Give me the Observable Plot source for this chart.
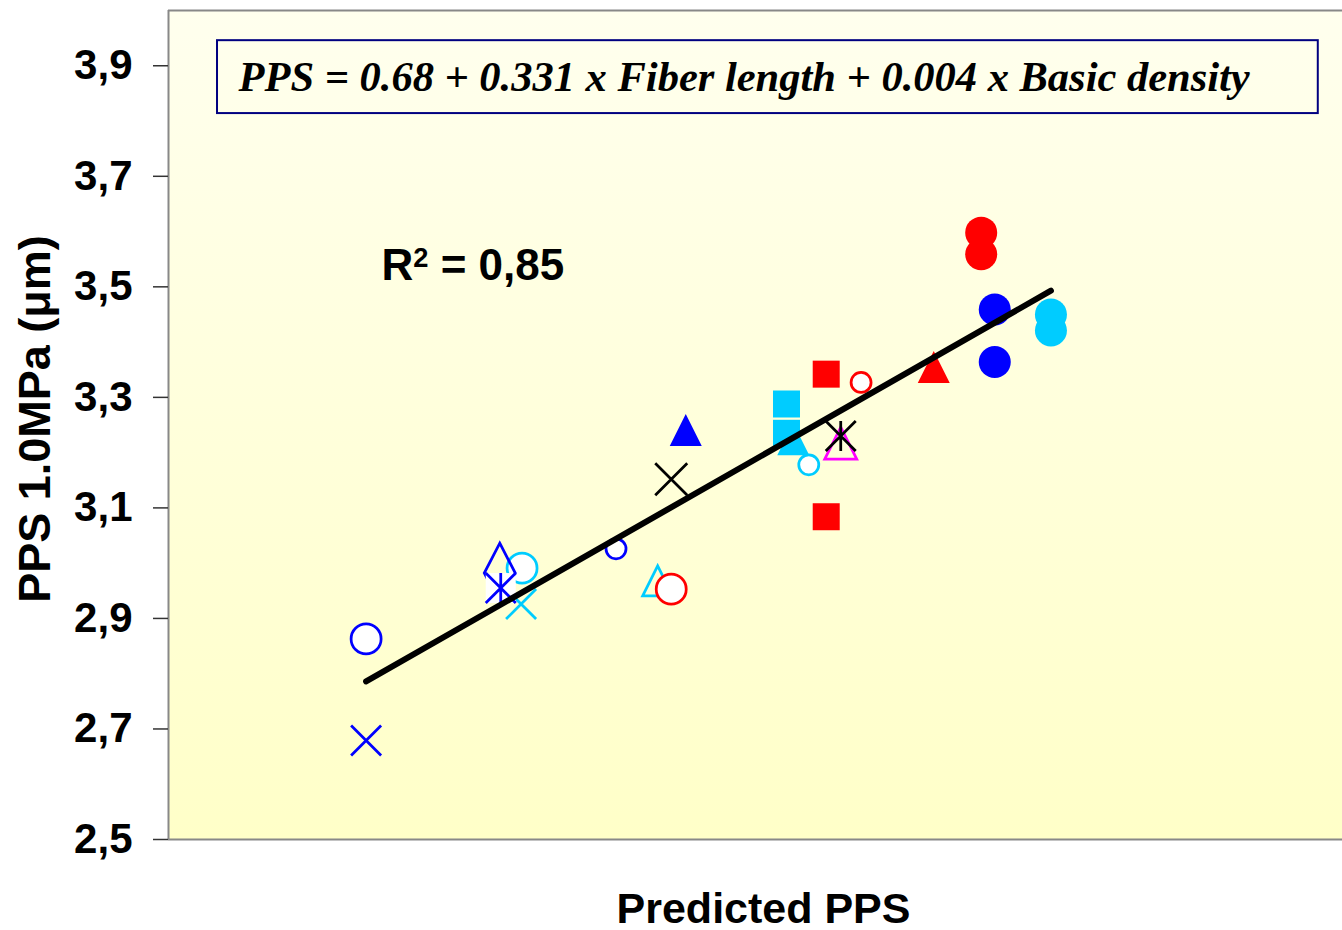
<!DOCTYPE html>
<html>
<head>
<meta charset="utf-8">
<script src="https://cdn.jsdelivr.net/npm/d3@7"></script>
<script src="https://cdn.jsdelivr.net/npm/@observablehq/plot@0.6"></script>
<style>
  html, body { margin: 0; padding: 0; background: #ffffff; }
  #chart svg { display: block; }
</style>
</head>
<body>
<div id="chart"></div>
<script>
// ---- Data ----
const predictedPPS = [2.786, 2.786, 2.924, 2.925, 2.947, 2.946, 3.044, 3.087, 3.101, 3.101,
                      3.116, 3.220, 3.220, 3.227, 3.243, 3.261, 3.261, 3.297, 3.276, 3.276,
                      3.372, 3.421, 3.421, 3.435, 3.435, 3.493, 3.493];
const measuredPPS  = [2.863, 2.679, 2.982, 2.955, 2.991, 2.926, 3.026, 2.968, 2.953, 3.152,
                      3.241, 3.288, 3.235, 3.224, 3.178, 3.342, 3.084, 3.327, 3.217, 3.230,
                      3.355, 3.598, 3.559, 3.459, 3.364, 3.450, 3.421];
const sampleSeries = ["blueCircleOpen", "blueCross", "blueDiamond", "blueStar", "cyanCircleOpen", "cyanCross",
                      "blueCircleSmall", "cyanTriangleOpen", "redCircleOpen", "blackCross",
                      "blueTriangle", "cyanSquare", "cyanSquare", "cyanTriangle", "cyanCircleSmall",
                      "redSquare", "redSquare", "redCircleSmall", "magentaTriangleOpen", "blackStar",
                      "redTriangle", "redCircle", "redCircle", "blueCircle", "blueCircle", "cyanCircle", "cyanCircle"];
const fitLineX = [2.786, 3.493];   // range of predicted values
const yTicks = [2.5, 2.7, 2.9, 3.1, 3.3, 3.5, 3.7, 3.9];
const equationText = "PPS = 0.68 + 0.331 x Fiber length + 0.004 x Basic density";
const r2Label = "R";
const r2Sup = "2";
const r2Value = " = 0,85";
const xTitle = "Predicted PPS";
const yTitle = "PPS 1.0MPa (μm)";

const points = predictedPPS.map((p, i) => ({predicted: p, measured: measuredPPS[i], series: sampleSeries[i]}));
const fitLine = fitLineX.map(v => ({predicted: v, measured: v}));

// ---- Custom marker shapes ----
const rad = s => Math.sqrt(s / Math.PI);
const squareSym = {draw(c, s) { const r = rad(s); c.rect(-r, -r, 2 * r, 2 * r); }};
const triSym = {draw(c, s) { const r = rad(s); c.moveTo(0, -r); c.lineTo(r, r); c.lineTo(-r, r); c.closePath(); }};
const timesSym = {draw(c, s) { const r = rad(s); c.moveTo(-r, -r); c.lineTo(r, r); c.moveTo(-r, r); c.lineTo(r, -r); }};
const starSym = {draw(c, s) { const r = rad(s); c.moveTo(-r, -r); c.lineTo(r, r); c.moveTo(-r, r); c.lineTo(r, -r); c.moveTo(0, -r); c.lineTo(0, r); }};
const kiteSym = {draw(c, s) { const r = rad(s); c.moveTo(0, -1.93 * r); c.lineTo(r, 0); c.lineTo(0, 1.93 * r); c.lineTo(-r, 0); c.closePath(); }};

const BLUE = "#0000FF", CYAN = "#00CCFF", RED = "#FF0000", MAG = "#FF00FF", BLACK = "#000000";
const SW = 2.75;
// draw order = order of this list
const seriesStyles = [
  ["blueCircleOpen",   {symbol: "circle", r: 15, stroke: BLUE, fill: "white", strokeWidth: SW}],
  ["blueCross",        {symbol: timesSym, r: 15, stroke: BLUE, fill: "none", strokeWidth: SW}],
  ["cyanCircleOpen",   {symbol: "circle", r: 15, stroke: CYAN, fill: "white", strokeWidth: SW}],
  ["cyanCross",        {symbol: timesSym, r: 15, stroke: CYAN, fill: "none", strokeWidth: SW}],
  ["blueDiamond",      {symbol: kiteSym, r: 15.5, stroke: BLUE, fill: "none", strokeWidth: SW}],
  ["blueStarBg",       {symbol: squareSym, r: 15, stroke: "none", fill: "white"}, "blueStar"],
  ["blueStar",         {symbol: starSym, r: 15, stroke: BLUE, fill: "none", strokeWidth: SW}],
  ["blueCircleSmall",  {symbol: "circle", r: 10, stroke: BLUE, fill: "white", strokeWidth: SW}],
  ["cyanTriangleOpen", {symbol: triSym, r: 15, stroke: CYAN, fill: "none", strokeWidth: SW}],
  ["redCircleOpen",    {symbol: "circle", r: 15, stroke: RED, fill: "white", strokeWidth: SW}],
  ["blackCross",       {symbol: timesSym, r: 16, stroke: BLACK, fill: "none", strokeWidth: SW}],
  ["blueTriangle",     {symbol: triSym, r: 16, stroke: "none", fill: BLUE}],
  ["cyanSquare",       {symbol: squareSym, r: 13.5, stroke: "none", fill: CYAN}],
  ["cyanTriangle",     {symbol: triSym, r: 16, stroke: "none", fill: CYAN}],
  ["cyanCircleSmall",  {symbol: "circle", r: 10, stroke: CYAN, fill: "white", strokeWidth: SW}],
  ["redSquare",        {symbol: squareSym, r: 13.5, stroke: "none", fill: RED}],
  ["redCircleSmall",   {symbol: "circle", r: 10, stroke: RED, fill: "white", strokeWidth: SW}],
  ["magentaTriangleOpen", {symbol: triSym, r: 16, stroke: MAG, fill: "none", strokeWidth: SW}],
  ["blackStar",        {symbol: starSym, r: 15, stroke: BLACK, fill: "none", strokeWidth: SW}],
  ["redTriangle",      {symbol: triSym, r: 16, stroke: "none", fill: RED}],
  ["redCircle",        {symbol: "circle", r: 16, stroke: "none", fill: RED}],
  ["blueCircle",       {symbol: "circle", r: 16, stroke: "none", fill: BLUE}],
  ["cyanCircle",       {symbol: "circle", r: 16, stroke: "none", fill: CYAN}]
];

const xDomain = [2.582, 3.794];
const yDomain = [2.5, 4.0];

const dotMarks = seriesStyles.map(([key, style, src]) =>
  Plot.dot(points.filter(d => d.series === (src || key)), {x: "predicted", y: "measured", ...style})
);

const SANS = "'Liberation Sans', Arial, sans-serif";

const svg = Plot.plot({
  width: 1342,
  height: 930,
  marginLeft: 168,
  marginTop: 10,
  marginRight: 0,
  marginBottom: 91,
  style: {fontFamily: SANS, fontSize: "42px", fontWeight: "bold", color: "#000", background: "#fff", overflow: "visible"},
  x: {domain: xDomain, axis: null},
  y: {domain: yDomain, axis: null},
  marks: [
    Plot.frame({fill: "url(#plotBg)", stroke: "none"}),
    Plot.ruleY([yDomain[0], yDomain[1]], {stroke: "#888", strokeWidth: 2}),
    Plot.ruleX([xDomain[0]], {stroke: "#888", strokeWidth: 2}),
    Plot.axisY(yTicks, {tickSize: 15, tickPadding: 21, tickFormat: d => d.toFixed(1).replace(".", ","), stroke: "#333", strokeWidth: 1.5, label: null, fontSize: 42}),
    Plot.rect([{x1: 2.6326, x2: 3.769, y1: 3.8135, y2: 3.9454}], {x1: "x1", x2: "x2", y1: "y1", y2: "y2", fill: "none", stroke: "#000080", strokeWidth: 2}),
    Plot.text([equationText], {frameAnchor: "top-left", dx: 70, dy: 67, textAnchor: "start", lineAnchor: "middle", fontFamily: "'Liberation Serif', 'Times New Roman', serif", fontStyle: "italic", fontWeight: "bold", fontSize: 42.5}),
    Plot.text([r2Label + r2Sup + r2Value], {frameAnchor: "top-left", dx: 213, dy: 255, textAnchor: "start", lineAnchor: "middle", fontSize: 44, className: "r2label"}),
    ...dotMarks,
    Plot.line(fitLine, {x: "predicted", y: "measured", stroke: "#000", strokeWidth: 6, strokeLinecap: "round"}),
    Plot.text([xTitle], {frameAnchor: "bottom", dx: 8, dy: 70, lineAnchor: "middle", textAnchor: "middle", fontSize: 43}),
    Plot.text([yTitle], {frameAnchor: "left", dx: -133, dy: -6, rotate: -90, textAnchor: "middle", lineAnchor: "middle", fontSize: 45})
  ]
});

// gradient background for the plotting area
const defs = d3.select(svg).insert("defs", ":first-child");
const grad = defs.append("linearGradient").attr("id", "plotBg").attr("x1", 0).attr("y1", 0).attr("x2", 0).attr("y2", 1);
grad.append("stop").attr("offset", "0%").attr("stop-color", "#FFFFEE");
grad.append("stop").attr("offset", "100%").attr("stop-color", "#FFFFC8");

// superscript "2" in the R² label
d3.select(svg).selectAll("g.r2label text").each(function() {
  const t = d3.select(this);
  t.text(null);
  t.append("tspan").text(r2Label);
  t.append("tspan").attr("dy", "-0.45em").attr("font-size", "0.62em").text(r2Sup);
  t.append("tspan").attr("dy", "0.28em").text(r2Value);
});

document.getElementById("chart").appendChild(svg);
</script>
</body>
</html>
